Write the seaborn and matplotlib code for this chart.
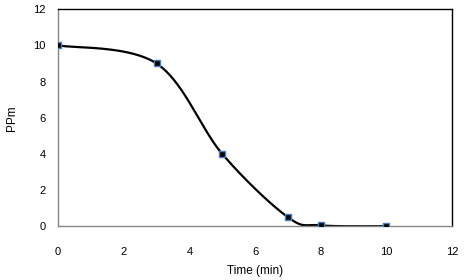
import numpy as np
import pandas as pd
import matplotlib
matplotlib.use("Agg")
import matplotlib.pyplot as plt
import seaborn as sns

time_min = [0, 3, 5, 7, 8, 10]
ppm = [10.0, 9.0, 4.0, 0.5, 0.05, 0.0]

df = pd.DataFrame({"time": time_min, "ppm": ppm})

sns.set_style("white", {"text.color": "black", "xtick.color": "black",
                        "ytick.color": "black", "axes.labelcolor": "black"})
plt.rcParams["font.family"] = ["Liberation Sans", "DejaVu Sans"]


def smooth_curve(x, y, n=40):
    # excel-style smoothed line: catmull-rom bezier through the points
    p = np.column_stack([x, y]).astype(float)
    p = np.vstack([p[0], p, p[-1]])
    out = []
    for i in range(1, len(p) - 2):
        p0, p1, p2, p3 = p[i - 1], p[i], p[i + 1], p[i + 2]
        c1 = p1 + (p2 - p0) / 6
        c2 = p2 - (p3 - p1) / 6
        t = np.linspace(0, 1, n)[:, None]
        seg = ((1 - t) ** 3) * p1 + 3 * ((1 - t) ** 2) * t * c1 + 3 * (1 - t) * t ** 2 * c2 + t ** 3 * p2
        out.append(seg)
    out = np.vstack(out)
    return out[:, 0], out[:, 1]


fig = plt.figure(figsize=(4.65, 2.8), dpi=100)
ax = fig.add_axes([0.125, 0.192, 0.847, 0.775])

sx, sy = smooth_curve(df["time"], df["ppm"])
ax.plot(sx, sy, color="black", lw=1.6, zorder=2)
sns.scatterplot(data=df, x="time", y="ppm", ax=ax, marker="s", s=22,
                color="black", edgecolor="#4a7ebb", linewidth=1.0, zorder=3)

ax.set_xlim(0, 12)
ax.set_ylim(0, 12)
ax.set_xticks(range(0, 13, 2))
ax.set_yticks(range(0, 13, 2))
ax.tick_params(direction="in", length=3, color="#868686", labelcolor="black", labelsize=8)
ax.tick_params(axis="x", pad=15)
ax.tick_params(axis="y", pad=9)
ax.set_xlabel("Time (min)", fontsize=8.5, labelpad=6, color="black")
ax.set_ylabel("PPm", fontsize=8.5, labelpad=11, color="black")

ax.spines["left"].set_color("#868686")
ax.spines["bottom"].set_color("#868686")
ax.spines["top"].set_color("black")
ax.spines["right"].set_color("black")
for s in ax.spines.values():
    s.set_linewidth(1.0)
    s.set_visible(True)

fig.savefig("out.png", dpi=100)
